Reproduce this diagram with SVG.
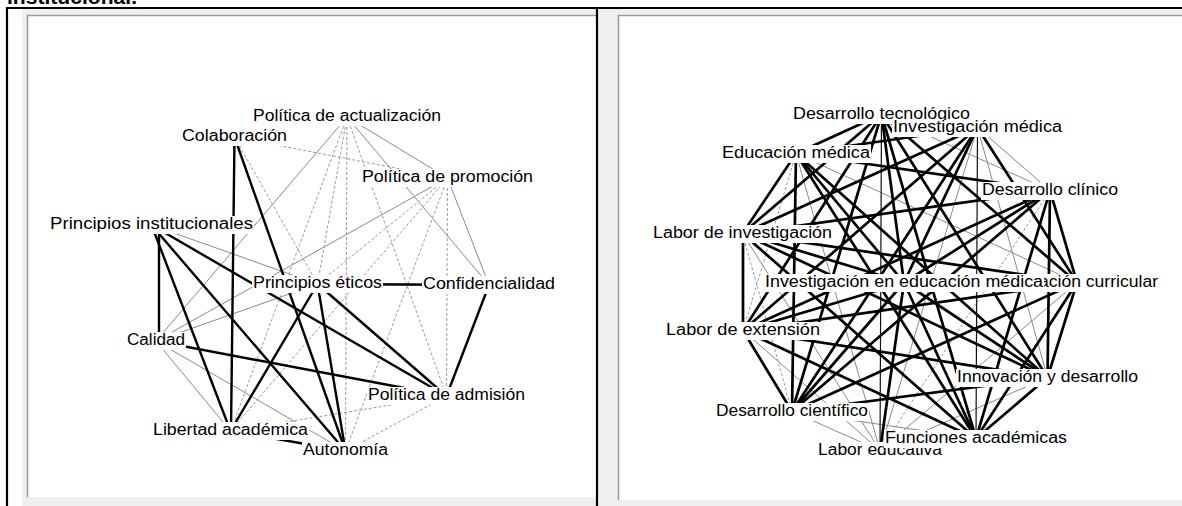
<svg xmlns="http://www.w3.org/2000/svg" width="1182" height="506" viewBox="0 0 1182 506">
<style>
.t{stroke:#000;stroke-width:2.4;stroke-linecap:round}
.tr{stroke:#000;stroke-width:2.7;stroke-linecap:round}
.b{stroke:#111;stroke-width:1.2}
.g{stroke:#8a8a8a;stroke-width:1}
.d{stroke:#9a9a9a;stroke-width:1;stroke-dasharray:3 2}
.lbl{font-family:"Liberation Sans",Arial,sans-serif;font-size:16px;fill:#000}
.bg{fill:#fff}
</style>
<rect width="1182" height="506" fill="#fff"/>
<text x="7" y="3.5" style="font-family:'Liberation Sans',Arial,sans-serif;font-size:20px;font-weight:bold" textLength="130" lengthAdjust="spacingAndGlyphs">institucional.</text>
<g id="frame">
<rect x="22" y="9" width="574" height="497" fill="#efefef"/>
<rect x="28" y="16" width="568" height="481" fill="#fff"/>
<path d="M27.5 497V15.5H596" fill="none" stroke="#9a9a9a" stroke-width="1.5"/>
<rect x="598" y="9" width="584" height="497" fill="#efefef"/>
<rect x="619" y="16" width="563" height="484" fill="#fff"/>
<path d="M618.5 500V15.5H1182" fill="none" stroke="#9a9a9a" stroke-width="1.5"/>
<path d="M6 8H1182M7 7V506M597 7V506" fill="none" stroke="#000" stroke-width="2.2"/>
</g>
<g id="connectors-left">
<line class="g" x1="347" y1="117" x2="156" y2="341"/>
<line class="g" x1="347" y1="117" x2="447.5" y2="178"/>
<line class="g" x1="347" y1="117" x2="489" y2="285"/>
<line class="g" x1="447.5" y1="178" x2="489" y2="285"/>
<line class="g" x1="447.5" y1="178" x2="156" y2="341"/>
<line class="g" x1="151.5" y1="225" x2="317.5" y2="284"/>
<line class="g" x1="156" y1="341" x2="317.5" y2="284"/>
<line class="g" x1="156" y1="341" x2="230.5" y2="431"/>
<line class="g" x1="156" y1="341" x2="345.5" y2="451"/>
<line class="d" x1="234.5" y1="137" x2="317.5" y2="284"/>
<line class="d" x1="234.5" y1="137" x2="447.5" y2="178"/>
<line class="d" x1="347" y1="117" x2="317.5" y2="284"/>
<line class="d" x1="347" y1="117" x2="345.5" y2="451"/>
<line class="d" x1="347" y1="117" x2="230.5" y2="431"/>
<line class="d" x1="347" y1="117" x2="446.5" y2="396"/>
<line class="d" x1="447.5" y1="178" x2="446.5" y2="396"/>
<line class="d" x1="447.5" y1="178" x2="345.5" y2="451"/>
<line class="d" x1="447.5" y1="178" x2="230.5" y2="431"/>
<line class="d" x1="447.5" y1="178" x2="317.5" y2="284"/>
<line class="d" x1="230.5" y1="431" x2="446.5" y2="396"/>
<line class="d" x1="345.5" y1="451" x2="446.5" y2="396"/>
<line class="t" x1="234.5" y1="137" x2="231" y2="431"/>
<line class="t" x1="234.5" y1="137" x2="345.5" y2="451"/>
<line class="t" x1="159" y1="225" x2="159" y2="341"/>
<line class="t" x1="151.5" y1="225" x2="230.5" y2="431"/>
<line class="t" x1="151.5" y1="225" x2="345.5" y2="451"/>
<line class="t" x1="151.5" y1="225" x2="446.5" y2="396"/>
<line class="t" x1="156" y1="341" x2="446.5" y2="396"/>
<line class="t" x1="230.5" y1="431" x2="317.5" y2="284"/>
<line class="t" x1="230.5" y1="431" x2="345.5" y2="451"/>
<line class="t" x1="345.5" y1="451" x2="317.5" y2="284"/>
<line class="t" x1="317.5" y1="284" x2="489" y2="285"/>
<line class="t" x1="317.5" y1="284" x2="446.5" y2="396"/>
<line class="t" x1="446.5" y1="396" x2="489" y2="285"/>
</g>
<g id="connectors-right">
<line class="g" x1="881.5" y1="114.5" x2="977.5" y2="127.5"/>
<line class="g" x1="881.5" y1="114.5" x2="1050" y2="190.5"/>
<line class="g" x1="977.5" y1="127.5" x2="1050" y2="190.5"/>
<line class="g" x1="977.5" y1="127.5" x2="1047.5" y2="377.5"/>
<line class="g" x1="977.5" y1="127.5" x2="880" y2="450.5"/>
<line class="g" x1="796" y1="153.5" x2="1077" y2="282.5"/>
<line class="g" x1="796" y1="153.5" x2="880" y2="450.5"/>
<line class="g" x1="742.5" y1="233.5" x2="880" y2="450.5"/>
<line class="g" x1="1077" y1="282.5" x2="880" y2="450.5"/>
<line class="g" x1="743" y1="330.5" x2="880" y2="450.5"/>
<line class="g" x1="1047.5" y1="377.5" x2="880" y2="450.5"/>
<line class="g" x1="792" y1="411.5" x2="976" y2="438.5"/>
<line class="g" x1="792" y1="411.5" x2="880" y2="450.5"/>
<line class="d" x1="796" y1="153.5" x2="743" y2="330.5"/>
<line class="d" x1="1050" y1="190.5" x2="880" y2="450.5"/>
<line class="d" x1="742.5" y1="233.5" x2="792" y2="411.5"/>
<line class="b" x1="881.5" y1="114.5" x2="880" y2="450.5"/>
<line class="b" x1="977.5" y1="127.5" x2="976" y2="438.5"/>
<line class="tr" x1="881.5" y1="114.5" x2="796" y2="153.5"/>
<line class="tr" x1="881.5" y1="114.5" x2="742.5" y2="233.5"/>
<line class="tr" x1="881.5" y1="114.5" x2="904" y2="282.5"/>
<line class="tr" x1="881.5" y1="114.5" x2="1077" y2="282.5"/>
<line class="tr" x1="881.5" y1="114.5" x2="743" y2="330.5"/>
<line class="tr" x1="881.5" y1="114.5" x2="1047.5" y2="377.5"/>
<line class="tr" x1="881.5" y1="114.5" x2="792" y2="411.5"/>
<line class="tr" x1="881.5" y1="114.5" x2="976" y2="438.5"/>
<line class="tr" x1="977.5" y1="127.5" x2="796" y2="153.5"/>
<line class="tr" x1="977.5" y1="127.5" x2="742.5" y2="233.5"/>
<line class="tr" x1="977.5" y1="127.5" x2="904" y2="282.5"/>
<line class="tr" x1="977.5" y1="127.5" x2="1077" y2="282.5"/>
<line class="tr" x1="977.5" y1="127.5" x2="743" y2="330.5"/>
<line class="tr" x1="977.5" y1="127.5" x2="792" y2="411.5"/>
<line class="tr" x1="796" y1="153.5" x2="1050" y2="190.5"/>
<line class="tr" x1="796" y1="153.5" x2="742.5" y2="233.5"/>
<line class="tr" x1="796" y1="153.5" x2="904" y2="282.5"/>
<line class="tr" x1="796" y1="153.5" x2="1047.5" y2="377.5"/>
<line class="tr" x1="796" y1="153.5" x2="792" y2="411.5"/>
<line class="tr" x1="796" y1="153.5" x2="976" y2="438.5"/>
<line class="tr" x1="1050" y1="190.5" x2="742.5" y2="233.5"/>
<line class="tr" x1="1050" y1="190.5" x2="904" y2="282.5"/>
<line class="tr" x1="1050" y1="190.5" x2="1077" y2="282.5"/>
<line class="tr" x1="1050" y1="190.5" x2="743" y2="330.5"/>
<line class="tr" x1="1050" y1="190.5" x2="1047.5" y2="377.5"/>
<line class="tr" x1="1050" y1="190.5" x2="792" y2="411.5"/>
<line class="tr" x1="1050" y1="190.5" x2="976" y2="438.5"/>
<line class="tr" x1="742.5" y1="233.5" x2="904" y2="282.5"/>
<line class="tr" x1="742.5" y1="233.5" x2="1077" y2="282.5"/>
<line class="tr" x1="743" y1="233.5" x2="743" y2="330.5"/>
<line class="tr" x1="742.5" y1="233.5" x2="1047.5" y2="377.5"/>
<line class="tr" x1="742.5" y1="233.5" x2="976" y2="438.5"/>
<line class="tr" x1="904" y1="282.5" x2="1077" y2="282.5"/>
<line class="tr" x1="904" y1="282.5" x2="743" y2="330.5"/>
<line class="tr" x1="904" y1="282.5" x2="1047.5" y2="377.5"/>
<line class="tr" x1="904" y1="282.5" x2="792" y2="411.5"/>
<line class="tr" x1="904" y1="282.5" x2="976" y2="438.5"/>
<line class="tr" x1="904" y1="282.5" x2="880" y2="450.5"/>
<line class="tr" x1="1077" y1="282.5" x2="743" y2="330.5"/>
<line class="tr" x1="1077" y1="282.5" x2="1047.5" y2="377.5"/>
<line class="tr" x1="1077" y1="282.5" x2="792" y2="411.5"/>
<line class="tr" x1="1077" y1="282.5" x2="976" y2="438.5"/>
<line class="tr" x1="743" y1="330.5" x2="1047.5" y2="377.5"/>
<line class="tr" x1="743" y1="330.5" x2="792" y2="411.5"/>
<line class="tr" x1="743" y1="330.5" x2="976" y2="438.5"/>
<line class="tr" x1="1047.5" y1="377.5" x2="792" y2="411.5"/>
<line class="tr" x1="1047.5" y1="377.5" x2="976" y2="438.5"/>
<line class="tr" x1="976" y1="438.5" x2="880" y2="450.5"/>
</g>
<g id="n-actualizacion"><rect class="bg" x="252" y="108" width="190" height="18"/><text class="lbl" x="253" y="121" textLength="188" lengthAdjust="spacingAndGlyphs">Política de actualización</text></g>
<g id="n-colaboracion"><rect class="bg" x="181" y="128" width="107" height="18"/><text class="lbl" x="182" y="141" textLength="105" lengthAdjust="spacingAndGlyphs">Colaboración</text></g>
<g id="n-promocion"><rect class="bg" x="361" y="169" width="173" height="18"/><text class="lbl" x="362" y="182" textLength="171" lengthAdjust="spacingAndGlyphs">Política de promoción</text></g>
<g id="n-institucionales"><rect class="bg" x="49" y="216" width="205" height="18"/><text class="lbl" x="50" y="229" textLength="203" lengthAdjust="spacingAndGlyphs">Principios institucionales</text></g>
<g id="n-eticos"><rect class="bg" x="252" y="275" width="131" height="18"/><text class="lbl" x="253" y="288" textLength="129" lengthAdjust="spacingAndGlyphs">Principios éticos</text></g>
<g id="n-confidencialidad"><rect class="bg" x="422" y="276" width="134" height="18"/><text class="lbl" x="423" y="289" textLength="132" lengthAdjust="spacingAndGlyphs">Confidencialidad</text></g>
<g id="n-calidad"><rect class="bg" x="126" y="332" width="60" height="18"/><text class="lbl" x="127" y="345" textLength="58" lengthAdjust="spacingAndGlyphs">Calidad</text></g>
<g id="n-admision"><rect class="bg" x="367" y="387" width="159" height="18"/><text class="lbl" x="368" y="400" textLength="157" lengthAdjust="spacingAndGlyphs">Política de admisión</text></g>
<g id="n-libertad"><rect class="bg" x="152" y="422" width="157" height="18"/><text class="lbl" x="153" y="435" textLength="155" lengthAdjust="spacingAndGlyphs">Libertad académica</text></g>
<g id="n-autonomia"><rect class="bg" x="302" y="442" width="87" height="18"/><text class="lbl" x="303" y="455" textLength="85" lengthAdjust="spacingAndGlyphs">Autonomía</text></g>
<g id="n-tecnologico"><rect class="bg" x="792" y="106" width="179" height="18"/><text class="lbl" x="793" y="119" textLength="177" lengthAdjust="spacingAndGlyphs">Desarrollo tecnológico</text></g>
<g id="n-investigacion-medica"><rect class="bg" x="892" y="120" width="171" height="17"/><text class="lbl" x="893" y="132" textLength="169" lengthAdjust="spacingAndGlyphs">Investigación médica</text></g>
<g id="n-educacion-medica"><rect class="bg" x="721" y="145" width="150" height="18"/><text class="lbl" x="722" y="158" textLength="148" lengthAdjust="spacingAndGlyphs">Educación médica</text></g>
<g id="n-clinico"><rect class="bg" x="981" y="182" width="138" height="18"/><text class="lbl" x="982" y="195" textLength="136" lengthAdjust="spacingAndGlyphs">Desarrollo clínico</text></g>
<g id="n-labor-investigacion"><rect class="bg" x="652" y="225" width="181" height="18"/><text class="lbl" x="653" y="238" textLength="179" lengthAdjust="spacingAndGlyphs">Labor de investigación</text></g>
<g id="n-curricular"><rect class="bg" x="995" y="274" width="164" height="18"/><text class="lbl" x="996" y="287" textLength="162" lengthAdjust="spacingAndGlyphs">Innovación curricular</text></g>
<g id="n-investigacion-educacion"><rect class="bg" x="764" y="274" width="280" height="18"/><text class="lbl" x="765" y="287" textLength="278" lengthAdjust="spacingAndGlyphs">Investigación en educación médica</text></g>
<g id="n-extension"><rect class="bg" x="665" y="322" width="156" height="18"/><text class="lbl" x="666" y="335" textLength="154" lengthAdjust="spacingAndGlyphs">Labor de extensión</text></g>
<g id="n-innovacion-desarrollo"><rect class="bg" x="956" y="369" width="183" height="18"/><text class="lbl" x="957" y="382" textLength="181" lengthAdjust="spacingAndGlyphs">Innovación y desarrollo</text></g>
<g id="n-cientifico"><rect class="bg" x="715" y="403" width="154" height="18"/><text class="lbl" x="716" y="416" textLength="152" lengthAdjust="spacingAndGlyphs">Desarrollo científico</text></g>
<g id="n-labor-educativa"><rect class="bg" x="817" y="442" width="126" height="18"/><text class="lbl" x="818" y="455" textLength="124" lengthAdjust="spacingAndGlyphs">Labor educativa</text></g>
<g id="n-funciones"><rect class="bg" x="884" y="430" width="184" height="18"/><text class="lbl" x="885" y="443" textLength="182" lengthAdjust="spacingAndGlyphs">Funciones académicas</text></g>
</svg>
